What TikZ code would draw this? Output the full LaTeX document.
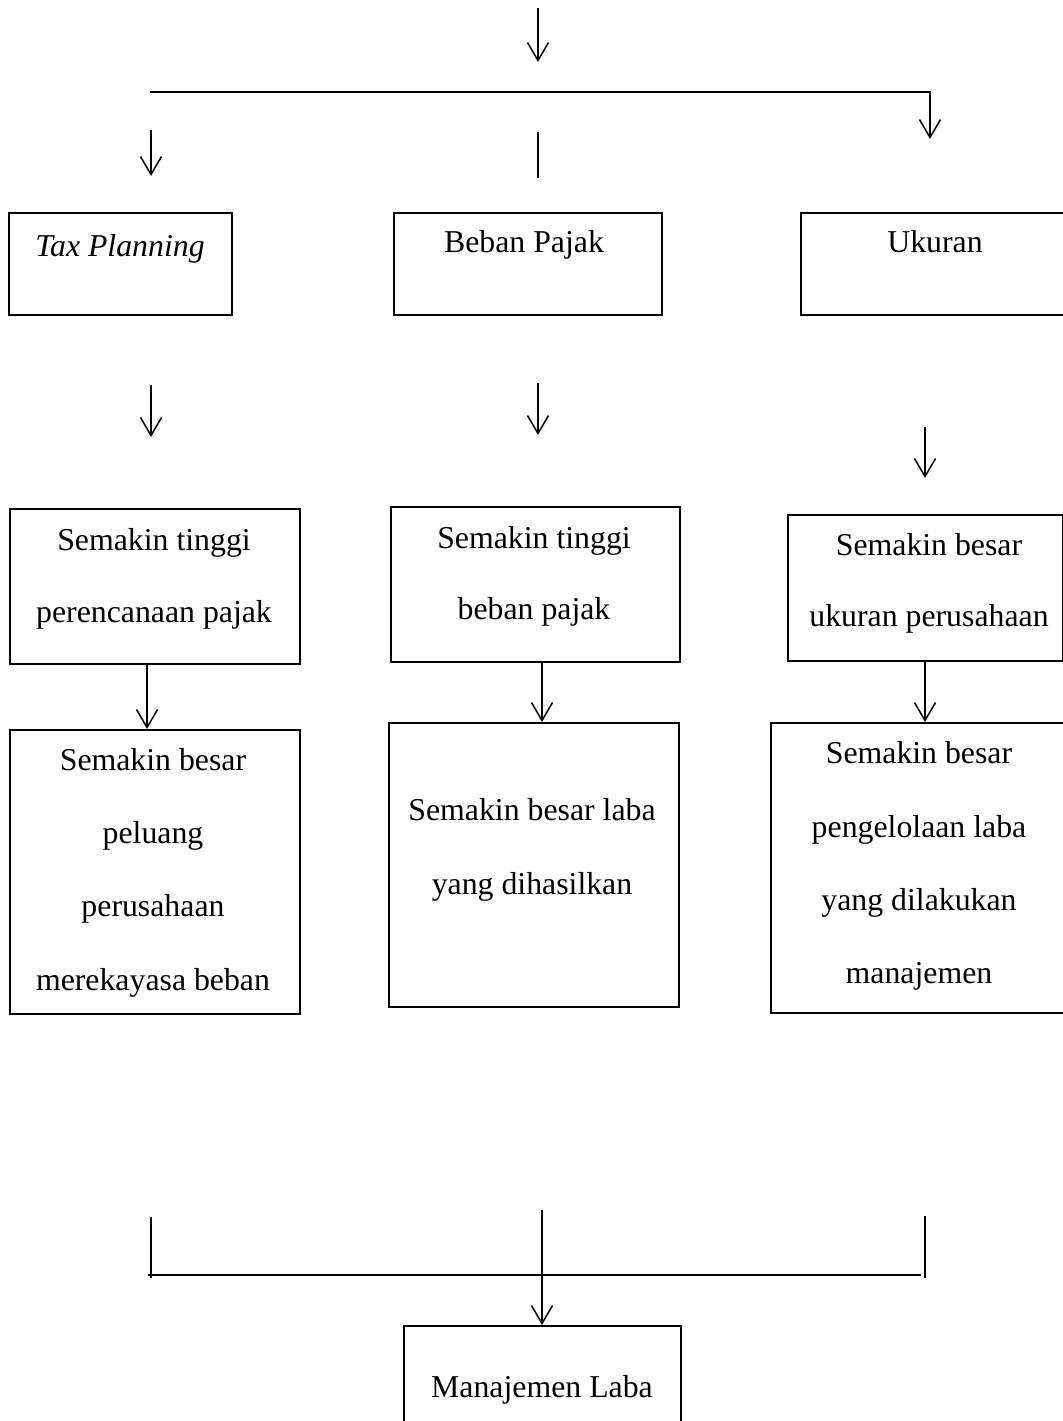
\documentclass[tikz,border=0pt]{standalone}
\usepackage{fontspec}
\setmainfont{Liberation Serif}
\usetikzlibrary{arrows.meta}
\tikzset{
  box/.style={draw, line width=0.75pt, inner sep=0pt, anchor=north west},
  txt/.style={anchor=base, inner sep=0pt, font=\fontsize{15.9pt}{36pt}\selectfont},
  ln/.style={line width=0.75pt},
  arr/.style={line width=0.75pt, -{Straight Barb[length=9pt,width=10.5pt,line width=0.75pt]}},
}
\newcommand{\boxat}[5]{\node[box, minimum width=#4*0.5pt, minimum height=#5*0.5pt] (#1) at (#2,#3) {};}
\begin{document}
\begin{tikzpicture}[x=0.5pt,y=-0.5pt]
\useasboundingbox (0,0) rectangle (1063,1421);
% boxes
\boxat{tp}{8}{212}{223}{102}
\boxat{bp}{393}{212}{268}{102}
\boxat{uk}{800}{212}{275}{102}
\boxat{a2}{9}{508}{290}{155}
\boxat{b2}{390}{506}{289}{155}
\boxat{c2}{787}{514}{275}{146}
\boxat{a3}{9}{729}{290}{284}
\boxat{b3}{388}{722}{290}{284}
\boxat{c3}{770}{722}{305}{290}
\boxat{ml}{403}{1325}{277}{120}
% texts
\node[txt] (tpt) at (120,256) {\itshape Tax Planning};
\node[txt] (bpt) at (524,252) {Beban Pajak};
\node[txt] (ukt) at (935,252) {Ukuran};
\node[txt] (a2t1) at (154,550) {Semakin tinggi};
\node[txt] (a2t2) at (154,622) {perencanaan pajak};
\node[txt] (b2t1) at (534,548) {Semakin tinggi};
\node[txt] (b2t2) at (534,619) {beban pajak};
\node[txt] (c2t1) at (929,555) {Semakin besar};
\node[txt] (c2t2) at (929,626) {ukuran perusahaan};
\node[txt] (a3t1) at (153,770) {Semakin besar};
\node[txt] (a3t2) at (153,843) {peluang};
\node[txt] (a3t3) at (153,916) {perusahaan};
\node[txt] (a3t4) at (153,990) {merekayasa beban};
\node[txt] (b3t1) at (532,820) {Semakin besar laba};
\node[txt] (b3t2) at (532,894) {yang dihasilkan};
\node[txt] (c3t1) at (919,763) {Semakin besar};
\node[txt] (c3t2) at (919,837) {pengelolaan laba};
\node[txt] (c3t3) at (919,910) {yang dilakukan};
\node[txt] (c3t4) at (919,983) {manajemen};
\node[txt] (mlt) at (542,1397) {Manajemen Laba};
% free coordinates
\coordinate (t0s) at (538,8);   \coordinate (t0e) at (538,62);
\coordinate (hl) at (150,92);   \coordinate (hr) at (930,92);
\coordinate (ukar) at (930,139);
\coordinate (l1s) at (151,130); \coordinate (l1e) at (151,176);
\coordinate (m1s) at (538,132); \coordinate (m1e) at (538,178);
\coordinate (l2s) at (151,385); \coordinate (l2e) at (151,437);
\coordinate (m2s) at (538,383); \coordinate (m2e) at (538,435);
\coordinate (r2s) at (925,427); \coordinate (r2e) at (925,478);
\coordinate (bl1) at (151,1217); \coordinate (bl2) at (151,1278);
\coordinate (bm1) at (542,1210);
\coordinate (br1) at (925,1216); \coordinate (br2) at (925,1278);
\coordinate (bhl) at (148,1275); \coordinate (bhr) at (921,1275);
% connectors
\draw[arr] (t0s) -- (t0e);
\draw[arr] (hl) -- (hr) -- (ukar);
\draw[arr] (l1s) -- (l1e);
\draw[ln] (m1s) -- (m1e);
\draw[arr] (l2s) -- (l2e);
\draw[arr] (m2s) -- (m2e);
\draw[arr] (r2s) -- (r2e);
\draw[arr] (a2.south -| 147,0) -- (a3.north -| 147,0);
\draw[arr] (b2.south -| 542,0) -- (b3.north -| 542,0);
\draw[arr] (c2.south -| 925,0) -- (c3.north -| 925,0);
\draw[ln] (bl1) -- (bl2);
\draw[ln] (br1) -- (br2);
\draw[ln] (bhl) -- (bhr);
\draw[arr] (bm1) -- (ml.north -| 542,0);
\end{tikzpicture}
\end{document}
